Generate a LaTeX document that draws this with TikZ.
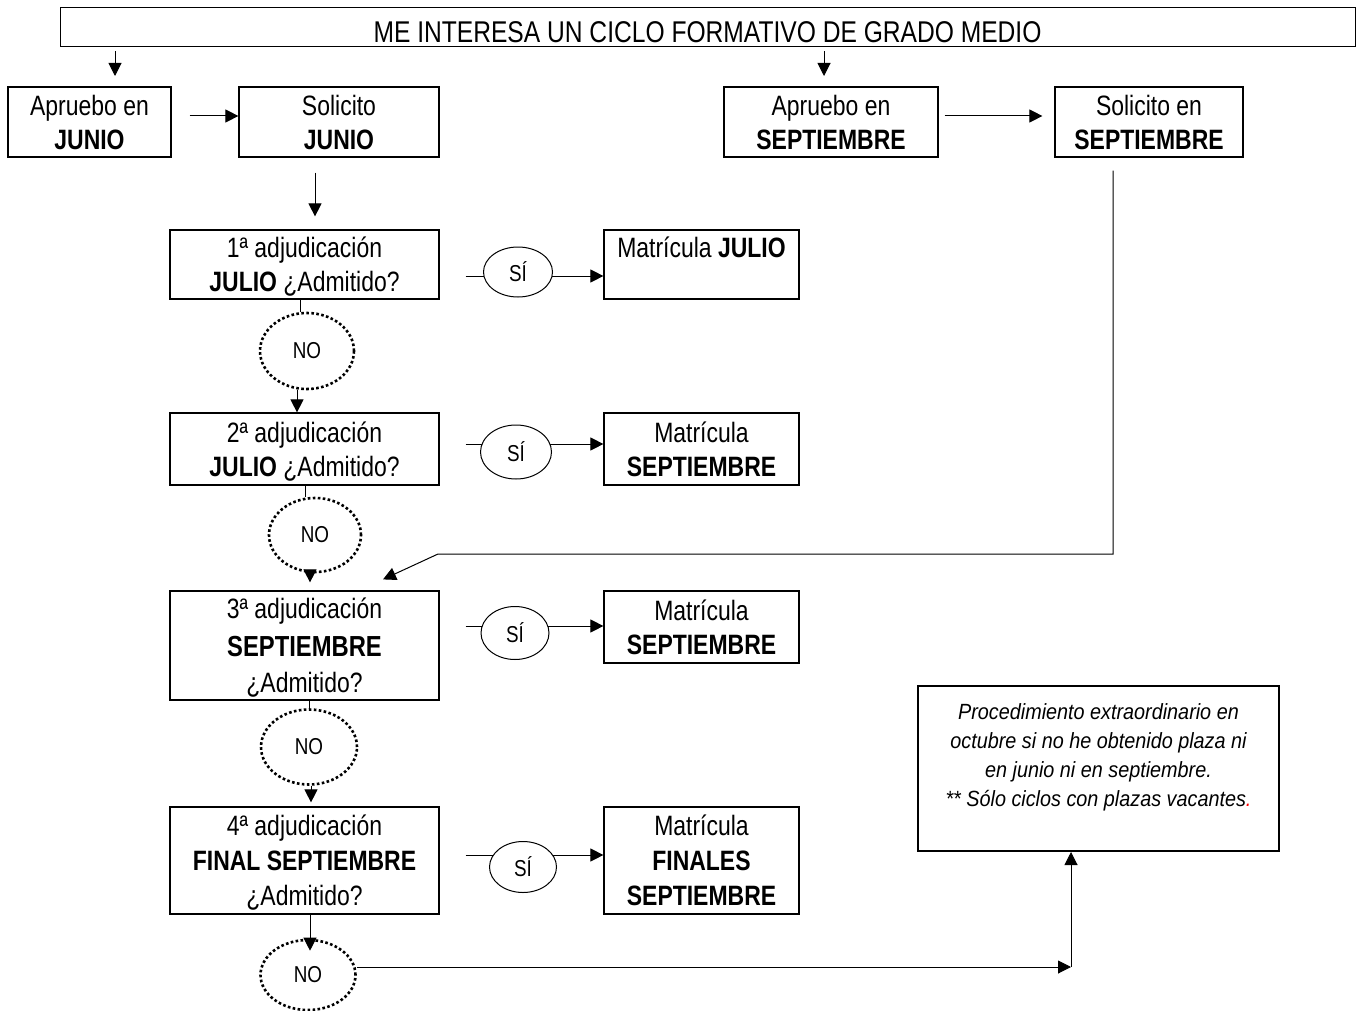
\documentclass[tikz,border=0pt]{standalone}
\usepackage{fontspec}
\setmainfont{Liberation Sans}[FakeStretch=0.82]
\newfontfamily\notefont{Liberation Sans}[FakeStretch=0.9]
\usetikzlibrary{arrows.meta,shapes.geometric}
\begin{document}
\begin{tikzpicture}[x=1pt,y=-1pt,
  box/.style={draw,line width=1.2pt,align=center,inner sep=0pt,text depth=-4pt,
    execute at begin node={\rule{0pt}{26pt}},font=\fontsize{28}{34}\selectfont},
  conn/.style={line width=1pt},
  arr/.style={conn,-{Triangle[length=13pt,width=13pt]}},
  si/.style={ellipse,draw,line width=1pt,fill=white,inner sep=0pt,font=\fontsize{23}{23}\selectfont},
  nocirc/.style={ellipse,draw,line width=2.6pt,dash pattern=on 2.6pt off 2.4pt,fill=white,inner sep=0pt,font=\fontsize{23}{23}\selectfont}]
\useasboundingbox[fill=white] (0,0) rectangle (1359,1011);

% title
\node[draw,line width=1pt,minimum width=1295pt,minimum height=39pt,inner sep=0pt,
  text height=29.5pt,text depth=0pt,font=\fontsize{30}{30}\selectfont] (title) at (707.5,27.5)
  {ME INTERESA UN CICLO FORMATIVO DE GRADO MEDIO};

% top row
\node[box,minimum width=163pt,minimum height=70pt] (aj) at (89.5,122) {Apruebo en\\\textbf{JUNIO}};
\node[box,minimum width=200pt,minimum height=70pt] (sj) at (339,122) {Solicito\\\textbf{JUNIO}};
\node[box,minimum width=214pt,minimum height=70pt] (as) at (831,122) {Apruebo en\\\textbf{SEPTIEMBRE}};
\node[box,minimum width=188pt,minimum height=70pt] (ss) at (1149,122) {Solicito en\\\textbf{SEPTIEMBRE}};

% adjudication boxes
\node[box,minimum width=269pt,minimum height=69pt] (a1) at (304.5,264.5) {1ª adjudicación\\\textbf{JULIO} ¿Admitido?};
\node[box,minimum width=269pt,minimum height=72pt] (a2) at (304.5,449) {2ª adjudicación\\\textbf{JULIO} ¿Admitido?};
\node[box,minimum width=269pt,minimum height=109pt] (a3) at (304.5,645.5) {3ª adjudicación\\[4pt]{\fontsize{29}{34}\selectfont\textbf{SEPTIEMBRE}}\\[2pt]¿Admitido?};
\node[box,minimum width=269pt,minimum height=107pt] (a4) at (304.5,860.5) {4ª adjudicación\\[1pt]\textbf{FINAL SEPTIEMBRE}\\[1pt]¿Admitido?};

% matricula boxes
\node[box,minimum width=195pt,minimum height=69pt] (m1) at (701.5,264.5) {Matrícula \textbf{JULIO}\\\phantom{X}};
\node[box,minimum width=195pt,minimum height=72pt] (m2) at (701.5,449) {Matrícula\\\textbf{SEPTIEMBRE}};
\node[box,minimum width=195pt,minimum height=72pt] (m3) at (701.5,627) {Matrícula\\\textbf{SEPTIEMBRE}};
\node[box,minimum width=195pt,minimum height=107pt] (m4) at (701.5,860.5) {Matrícula\\[1pt]\textbf{FINALES}\\[1pt]\textbf{SEPTIEMBRE}};

% note
\node[draw,line width=2pt,minimum width=361pt,minimum height=165pt,inner sep=0pt] (note) at (1098.5,768.5) {};
\node[align=center,inner sep=0pt,font={\notefont\fontsize{22}{29}\selectfont\itshape}] (notetext) at (1098.5,757)
  {Procedimiento extraordinario en\\octubre si no he obtenido plaza ni\\en junio ni en septiembre.\\** Sólo ciclos con plazas vacantes{\color{red}.}};

% helper coordinates
\coordinate (t1) at (115,76);
\coordinate (t2) at (824,76);
\coordinate (h1) at (0,116);
\coordinate (r1) at (0,276);
\coordinate (r2) at (0,444);
\coordinate (r3) at (0,626);
\coordinate (r4) at (0,855);
\coordinate (c4) at (1071,967);

% top connectors
\draw[arr,shorten <=4pt] (title.south -| t1) -- (t1);
\draw[arr,shorten <=4pt] (title.south -| t2) -- (t2);
\draw[arr,shorten <=18pt] (aj.east |- h1) -- (sj.west |- h1);
\draw[arr,shorten <=6pt,shorten >=12pt] (as.east |- h1) -- (ss.west |- h1);
\draw[arr,shorten <=15pt,shorten >=13pt] ([xshift=-24pt]sj.south) -- ([xshift=10.5pt]a1.north);
\draw[arr] ([xshift=-36pt,yshift=-13pt]ss.south) |- (438,554) -- ([xshift=78.5pt,yshift=11pt]a3.north);

% SI connectors (ellipses drawn on top)
\draw[arr,shorten <=26pt] (a1.east |- r1) -- (m1.west |- r1);
\draw[arr,shorten <=26pt] (a2.east |- r2) -- (m2.west |- r2);
\draw[arr,shorten <=26pt] (a3.east |- r3) -- (m3.west |- r3);
\draw[arr,shorten <=26pt] (a4.east |- r4) -- (m4.west |- r4);
\node[si,minimum width=69pt,minimum height=50pt] (s1) at (518,272) {SÍ};
\node[si,minimum width=71pt,minimum height=54pt] (s2) at (516,452) {SÍ};
\node[si,minimum width=68pt,minimum height=53pt] (s3) at (515,633) {SÍ};
\node[si,minimum width=67pt,minimum height=51pt] (s4) at (523,867) {SÍ};

% NO circles
\node[nocirc,minimum width=94pt,minimum height=76pt] (n1) at (307,351) {NO};
\node[nocirc,minimum width=92pt,minimum height=74pt] (n2) at (315,535) {NO};
\node[nocirc,minimum width=96pt,minimum height=75pt] (n3) at (309,747) {NO};
\node[nocirc,minimum width=95pt,minimum height=70pt] (n4) at (308,975) {NO};

\draw[conn] ([xshift=-4.5pt]a1.south) -- ([xshift=-4.5pt]a1.south |- n1.north);
\draw[arr] ([xshift=-10pt]n1.south) -- ([xshift=-10pt]n1.south |- a2.north);
\draw[conn] ([xshift=0.5pt]a2.south) -- ([xshift=0.5pt]a2.south |- n2.north);
\draw[arr,shorten >=8pt] ([xshift=-5pt]n2.south) -- ([xshift=-5pt]n2.south |- a3.north);
\draw[conn] ([xshift=4.5pt]a3.south) -- ([xshift=4.5pt]a3.south |- n3.north);
\draw[arr,shorten >=4pt] ([xshift=2pt]n3.south) -- ([xshift=2pt]n3.south |- a4.north);
\draw[arr,shorten >=-12pt] ([xshift=5.5pt]a4.south) -- ([xshift=5.5pt]a4.south |- n4.north);

% to note
\draw[arr] (n4.east |- c4) -- (c4);
\draw[arr] (c4) -- (c4 |- note.south);
\end{tikzpicture}
\end{document}
